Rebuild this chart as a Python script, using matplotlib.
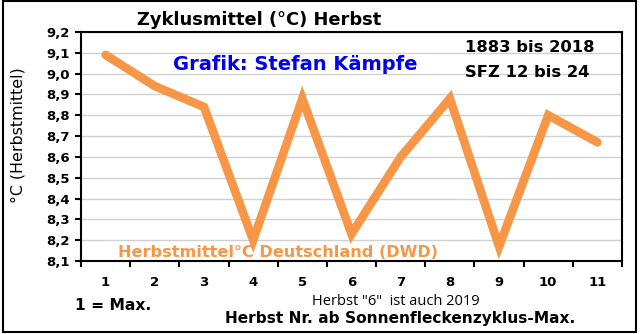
import matplotlib
matplotlib.use("Agg")
import matplotlib.pyplot as plt
from matplotlib.patches import Rectangle
from matplotlib.ticker import FixedLocator, FuncFormatter

# Daten: Herbstmittel je Jahr nach Sonnenfleckenzyklus-Maximum
herbst_nr = [1, 2, 3, 4, 5, 6, 7, 8, 9, 10, 11]
temp_mittel = [9.09, 8.94, 8.84, 8.20, 8.88, 8.23, 8.60, 8.88, 8.17, 8.80, 8.67]
y_ticks = [8.1, 8.2, 8.3, 8.4, 8.5, 8.6, 8.7, 8.8, 8.9, 9.0, 9.1, 9.2]

plt.rcParams['font.family'] = ['DejaVu Sans']

fig = plt.figure(figsize=(6.4, 3.34), dpi=100)
ax = fig.add_axes([0.1266, 0.2186, 0.8453, 0.6856])

ax.plot(herbst_nr, temp_mittel, color='#F79646', linewidth=6.2,
        solid_capstyle='round', solid_joinstyle='miter', zorder=3)

ax.set_xlim(0.5, 11.5)
ax.set_ylim(8.1, 9.2)

ax.set_yticks(y_ticks)
ax.yaxis.set_major_formatter(FuncFormatter(lambda v, p: f"{v:.1f}".replace('.', ',')))
ax.set_xticks(herbst_nr)
ax.xaxis.set_minor_locator(FixedLocator([i + 0.5 for i in range(0, 12)]))
ax.tick_params(axis='x', which='major', length=0, pad=11, labelsize=9.5)
ax.tick_params(axis='x', which='minor', length=4, width=1.5, direction='out')
ax.tick_params(axis='y', length=4, width=1.5, direction='out', pad=4, labelsize=9.5)
for lab in ax.get_xticklabels() + ax.get_yticklabels():
    lab.set_fontweight('bold')

ax.grid(axis='y', color='#d0d0d0', linewidth=1.0)
ax.set_axisbelow(True)
for s in ax.spines.values():
    s.set_linewidth(1.5)
    s.set_color('black')

fig.text(0.028, 0.595, '°C (Herbstmittel)', fontsize=11.4, rotation=90,
         ha='center', va='center')

# Texte
fig.text(0.405, 0.925, 'Zyklusmittel (°C) Herbst', fontsize=12.9, fontweight='bold',
         ha='center', va='baseline')
ax.text(0.170, 0.834, 'Grafik: Stefan Kämpfe', transform=ax.transAxes, fontsize=14,
        fontweight='bold', color='#0000EE', ha='left', va='baseline')
ax.text(0.710, 0.913, '1883 bis 2018', transform=ax.transAxes, fontsize=11.8,
        fontweight='bold', ha='left', va='baseline')
ax.text(0.710, 0.803, 'SFZ 12 bis 24', transform=ax.transAxes, fontsize=11.8,
        fontweight='bold', ha='left', va='baseline')
ax.text(0.068, 0.017, 'Herbstmittel°C Deutschland (DWD)', transform=ax.transAxes,
        fontsize=11.6, fontweight='bold', color='#F79646', ha='left', va='baseline')

fig.text(0.117, 0.072, '1 = Max.', fontsize=11.2, fontweight='bold', ha='left', va='baseline')
fig.text(0.4875, 0.087, 'Herbst "6"  ist auch 2019', fontsize=10.5,
         family=['Open Sans', 'DejaVu Sans'], ha='left', va='baseline')
fig.text(0.352, 0.033, 'Herbst Nr. ab Sonnenfleckenzyklus-Max.', fontsize=11.1,
         fontweight='bold', ha='left', va='baseline')

fig.patches.append(Rectangle((0.004, 0.006), 0.989, 0.99, transform=fig.transFigure,
                             fill=False, edgecolor='black', linewidth=1.5))

fig.savefig('out.png', dpi=100)
